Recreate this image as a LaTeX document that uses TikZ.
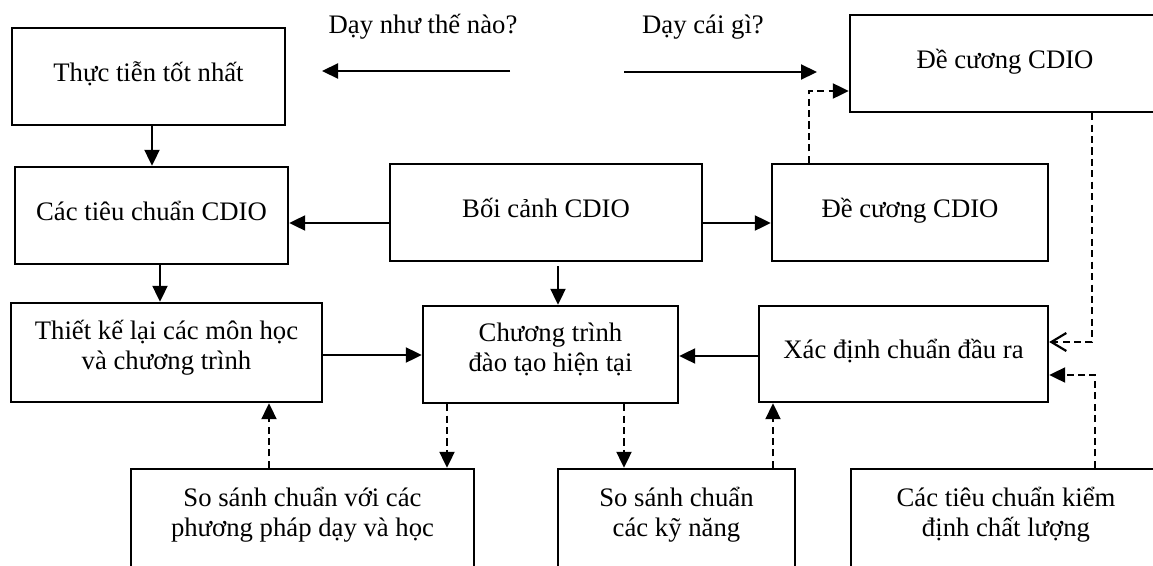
\documentclass[tikz,border=0pt]{standalone}
\usepackage{fontspec}
\setmainfont{Liberation Serif}
\usetikzlibrary{arrows.meta}

\newcommand{\hailine}[2]{\begin{tabular}[t]{@{}c@{}}#1\\#2\end{tabular}}

\tikzset{
  box/.style={draw, rectangle, line width=1.4pt, inner sep=1pt,
    text height=0.4cm, text depth=0.22cm},
  box2/.style={box, text depth=0.94cm},
  boxlow/.style={box, minimum height=2.6cm, text depth=1.52cm},
  arr/.style={line width=1.25pt, -{Triangle[length=0.32cm,width=0.3cm]}},
  darr/.style={arr, dash pattern=on 4pt off 2.5pt},
  barb/.style={line width=1.25pt, dash pattern=on 4pt off 2.5pt,
    -{Straight Barb[length=0.3cm,width=0.36cm]}},
}

\begin{document}
\begin{tikzpicture}[x=0.02cm, y=-0.02cm, font=\fontsize{15.2pt}{17.6pt}\selectfont]
\useasboundingbox (0,0) rectangle (1153,565);

% hang tren
\node[box, minimum width=5.46cm, minimum height=1.94cm] (thuctien) at (148.5,76.5) {Thực tiễn tốt nhất};
\node[box, minimum width=6.2cm, minimum height=1.94cm] (decuongtren) at (1005,63.5) {Đề cương CDIO};
\node (daynhu) at (423,27) {Dạy như thế nào?};
\node (daycai) at (703,27) {Dạy cái gì?};
\coordinate (nhuA) at (510,71);
\coordinate (nhuB) at (322,71);
\coordinate (caiA) at (624,72);
\coordinate (caiB) at (817,72);

% hang giua
\node[box, minimum width=5.46cm, minimum height=1.94cm] (tieuchuan) at (151.5,215.5) {Các tiêu chuẩn CDIO};
\node[box, minimum width=6.24cm, minimum height=1.94cm] (boicanh) at (546,212.5) {Bối cảnh CDIO};
\node[box, minimum width=5.52cm, minimum height=1.94cm] (decuongduoi) at (910,212.5) {Đề cương CDIO};

\node[box2, minimum width=6.22cm, minimum height=1.98cm] (thietke) at (166.5,352.5) {\hailine{Thiết kế lại các môn học}{và chương trình}};
\node[box2, minimum width=5.1cm, minimum height=1.94cm] (chuongtrinh) at (550.5,354.5) {\hailine{Chương trình}{đào tạo hiện tại}};
\node[box, minimum width=5.78cm, minimum height=1.92cm] (xacdinh) at (903.5,354) {Xác định chuẩn đầu ra};

% hang duoi
\node[boxlow, minimum width=6.86cm] (sosanhpp) at (302.5,534) {\hailine{So sánh chuẩn với các}{phương pháp dạy và học}};
\node[boxlow, minimum width=4.74cm] (sosanhkn) at (676.5,534) {\hailine{So sánh chuẩn}{các kỹ năng}};
\node[boxlow, minimum width=6.2cm] (kiemdinh) at (1006,534) {\hailine{Các tiêu chuẩn kiểm}{định chất lượng}};

\draw[arr] (nhuA) -- (nhuB);
\draw[arr] (caiA) -- (caiB);
\draw[arr] (thuctien.south -| 152,0) -- (tieuchuan.north -| 152,0);
\draw[arr] (tieuchuan.south -| 160,0) -- (thietke.north -| 160,0);
\draw[arr] (boicanh.west |- 0,223) -- (tieuchuan.east |- 0,223);
\draw[arr] (boicanh.east |- 0,223) -- (decuongduoi.west |- 0,223);
\draw[arr, shorten <=0.08cm] (boicanh.south -| 558,0) -- (chuongtrinh.north -| 558,0);
\draw[arr] (thietke.east |- 0,355) -- (chuongtrinh.west |- 0,355);
\draw[arr] (xacdinh.west |- 0,356) -- (chuongtrinh.east |- 0,356);

\draw[darr] (decuongduoi.north -| 809,0) |- (decuongtren.west |- 0,91);
\draw[barb] (decuongtren.south -| 1092,0) |- (xacdinh.east |- 0,342);
\draw[darr] (kiemdinh.north -| 1095,0) |- (xacdinh.east |- 0,375);
\draw[darr] (sosanhpp.north -| 269,0) -- (thietke.south -| 269,0);
\draw[darr] (chuongtrinh.south -| 447,0) -- (sosanhpp.north -| 447,0);
\draw[darr] (chuongtrinh.south -| 624,0) -- (sosanhkn.north -| 624,0);
\draw[darr] (sosanhkn.north -| 773,0) -- (xacdinh.south -| 773,0);
\end{tikzpicture}
\end{document}
